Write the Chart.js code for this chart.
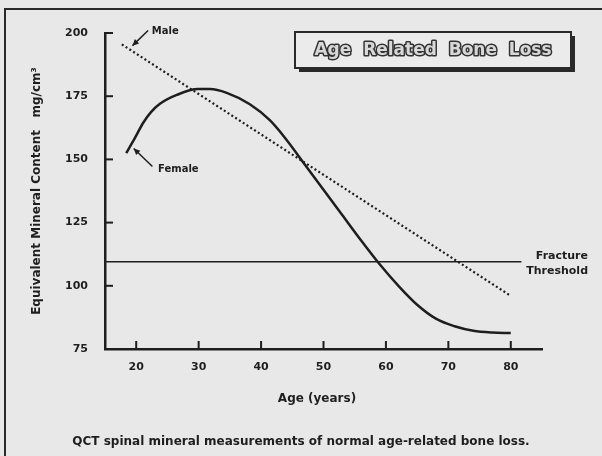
<!DOCTYPE html>
<html>
<head>
<meta charset="utf-8">
<script src="https://cdn.jsdelivr.net/npm/chart.js@4/dist/chart.umd.min.js"></script>
<style>
  html, body { margin: 0; padding: 0; background: #e8e8e8; }
  #wrap { width: 602px; height: 456px; position: relative; }
</style>
</head>
<body>
<div id="wrap"><canvas id="c" width="602" height="456"></canvas></div>
<script>
// ---- data ----
const femaleAge   = [18.4, 19.8, 21.1, 22.4, 23.8, 26.5, 29.9, 31.8, 34.5, 38.2, 41.4, 44.0, 47.0, 50.0, 53.0, 56.0, 59.0, 62.0, 65.0, 68.0, 71.0, 74.0, 77.0, 80.0];
const femaleValue = [152.5, 158.5, 164.4, 168.8, 172.0, 175.5, 177.8, 177.8, 176.3, 171.8, 165.5, 158.0, 148.0, 138.0, 128.0, 118.0, 108.5, 100.0, 92.5, 87.0, 84.0, 82.2, 81.5, 81.3];
const maleAge     = [17.7, 80.0];
const maleValue   = [195.5, 96.0];
const thresholdAge   = [15, 81.7];
const thresholdValue = [109.5, 109.5];
const xTicks = [20, 30, 40, 50, 60, 70, 80];
const yTicks = [75, 100, 125, 150, 175, 200];

const ink = '#1e1e1e';
const FONT = '"DejaVu Sans", sans-serif';

function pts(xs, ys) { return xs.map((x, i) => ({ x: x, y: ys[i] })); }

const bgPlugin = {
  id: 'bg',
  beforeDraw(chart) {
    const c = chart.ctx;
    c.save();
    c.fillStyle = '#e8e8e8';
    c.fillRect(0, 0, chart.width, chart.height);
    // page frame
    c.strokeStyle = '#2a2a2a';
    c.lineWidth = 2;
    c.beginPath();
    c.moveTo(5, chart.height);
    c.lineTo(5, 9);
    c.lineTo(chart.width, 9);
    c.stroke();
    c.restore();
  }
};

function arrow(c, x1, y1, x2, y2) {
  c.beginPath();
  c.moveTo(x1, y1);
  c.lineTo(x2, y2);
  c.stroke();
  const a = Math.atan2(y2 - y1, x2 - x1);
  const L = 7, w = 0.45;
  c.beginPath();
  c.moveTo(x2, y2);
  c.lineTo(x2 - L * Math.cos(a - w), y2 - L * Math.sin(a - w));
  c.lineTo(x2 - L * Math.cos(a + w), y2 - L * Math.sin(a + w));
  c.closePath();
  c.fill();
}

const annoPlugin = {
  id: 'anno',
  afterDraw(chart) {
    const c = chart.ctx;
    const xs = chart.scales.x, ys = chart.scales.y;
    const X = v => xs.getPixelForValue(v), Y = v => ys.getPixelForValue(v);
    c.save();
    c.strokeStyle = ink; c.fillStyle = ink;
    // inward ticks
    c.lineWidth = 2;
    xTicks.forEach(v => {
      c.beginPath(); c.moveTo(X(v), ys.bottom); c.lineTo(X(v), ys.bottom - 8); c.stroke();
    });
    yTicks.forEach(v => {
      if (v === ys.min) return;
      c.beginPath(); c.moveTo(xs.left, Y(v)); c.lineTo(xs.left + 8, Y(v)); c.stroke();
    });
    // Male / Female labels with arrows
    c.lineWidth = 1.5;
    c.font = 'bold 10px ' + FONT;
    c.textBaseline = 'middle';
    c.textAlign = 'left';
    c.fillText('Male', X(22.5), Y(200.8));
    arrow(c, X(21.9), Y(201.0), X(19.4), Y(195.0));
    c.fillText('Female', X(23.5), Y(146.2));
    arrow(c, X(22.6), Y(147.2), X(19.6), Y(154.3));
    // Fracture threshold label
    c.font = 'bold 11px ' + FONT;
    c.textAlign = 'right';
    c.fillText('Fracture', 588, Y(thresholdValue[0]) - 6);
    c.fillText('Threshold', 588, Y(thresholdValue[0]) + 9);
    // axis titles
    c.font = 'bold 12px ' + FONT;
    c.textAlign = 'center';
    c.fillText('Age (years)', 317, 399);
    c.save();
    c.translate(37, 191);
    c.rotate(-Math.PI / 2);
    c.fillText('Equivalent Mineral Content   mg/cm\u00B3', 0, 0);
    c.restore();
    // caption
    c.font = 'bold 12px ' + FONT;
    c.fillText('QCT spinal mineral measurements of normal age-related bone loss.', 301, 442);
    // title box
    const bx = 295, by = 32, bw = 276, bh = 36;
    c.fillStyle = '#2a2a2a';
    c.fillRect(bx + 4, by + 4, bw, bh);
    c.fillStyle = '#ebebeb';
    c.fillRect(bx, by, bw, bh);
    c.lineWidth = 2;
    c.strokeStyle = '#2a2a2a';
    c.strokeRect(bx, by, bw, bh);
    c.font = 'bold 17px ' + FONT;
    c.textAlign = 'center';
    c.lineWidth = 3;
    c.lineJoin = 'round';
    const title = 'Age  Related  Bone  Loss';
    c.strokeStyle = '#333';
    c.strokeText(title, bx + bw / 2, by + bh / 2 + 1);
    c.fillStyle = '#d8d8d8';
    c.fillText(title, bx + bw / 2, by + bh / 2 + 1);
    c.restore();
  }
};

new Chart(document.getElementById('c'), {
  type: 'line',
  data: {
    datasets: [
      { label: 'Female', data: pts(femaleAge, femaleValue), borderColor: ink, borderWidth: 2.5,
        pointRadius: 0, tension: 0.4, cubicInterpolationMode: 'monotone', fill: false },
      { label: 'Male', data: pts(maleAge, maleValue), borderColor: ink, borderWidth: 2.2,
        borderDash: [2, 2.5], pointRadius: 0, fill: false },
      { label: 'Fracture Threshold', data: pts(thresholdAge, thresholdValue), borderColor: ink,
        borderWidth: 1.6, pointRadius: 0, fill: false }
    ]
  },
  options: {
    responsive: false,
    animation: false,
    events: [],
    layout: { padding: { left: 0, top: 33, right: 60, bottom: 0 } },
    plugins: { legend: { display: false }, title: { display: false }, tooltip: { enabled: false } },
    scales: {
      x: {
        type: 'linear', min: 15, max: 85,
        afterBuildTicks: s => { s.ticks = xTicks.map(v => ({ value: v })); },
        afterFit: s => { s.height = 107; },
        grid: { drawOnChartArea: false, drawTicks: false },
        border: { display: true, color: ink, width: 2.5 },
        ticks: { color: ink, padding: 12, font: { family: FONT, size: 11, weight: 'bold' }, maxRotation: 0 }
      },
      y: {
        type: 'linear', min: 75, max: 200,
        afterBuildTicks: s => { s.ticks = yTicks.map(v => ({ value: v })); },
        afterFit: s => { s.width = 105; },
        grid: { drawOnChartArea: false, drawTicks: false },
        border: { display: true, color: ink, width: 2.5 },
        ticks: { color: ink, padding: 17, font: { family: FONT, size: 11, weight: 'bold' } }
      }
    }
  },
  plugins: [bgPlugin, annoPlugin]
});
</script>
</body>
</html>
